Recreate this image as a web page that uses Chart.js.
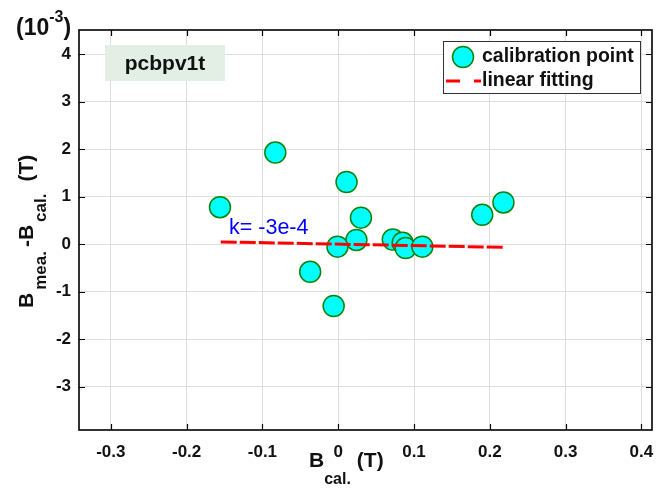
<!DOCTYPE html>
<html>
<head>
<meta charset="utf-8">
<script src="https://cdn.jsdelivr.net/npm/chart.js@4/dist/chart.umd.min.js"></script>
<style>
  html, body { margin: 0; padding: 0; background: #fff; }
  #wrap { width: 672px; height: 488px; }
</style>
</head>
<body>
<div id="wrap"><canvas id="residualChart" width="672" height="488"></canvas></div>
<script>
// valores (eje y en unidades de 1e-3 T)
const calX = [-0.156, -0.083, 0.011, 0.030, 0.024, -0.001, -0.037, -0.006, 0.072, 0.085, 0.089, 0.111, 0.190, 0.218];
const calY = [0.78, 1.93, 1.31, 0.56, 0.09, -0.05, -0.58, -1.30, 0.10, 0.03, -0.08, -0.05, 0.62, 0.88];
const fitX = [-0.155, 0.218];
const fitY = [0.05, -0.065];
const xTicks = [-0.3, -0.2, -0.1, 0, 0.1, 0.2, 0.3, 0.4];
const yTicks = [-3, -2, -1, 0, 1, 2, 3, 4];
const seriesNames = ['calibration point', 'linear fitting'];
const tagText = 'pcbpv1t';
const slopeText = 'k= -3e-4';

const FONT = '"Liberation Sans", Arial, Helvetica, sans-serif';
Chart.defaults.font.family = FONT;

// Función para dibujar texto con subindices/superindices por partes
function drawParts(ctx, parts, x, y) {
    let cx = x;
    parts.forEach(p => {
        ctx.font = 'bold ' + p.size + 'px ' + FONT;
        ctx.fillText(p.t, cx, y + (p.dy || 0));
        cx += ctx.measureText(p.t).width + (p.gap || 0);
    });
}

const matlabPlugin = {
    id: 'matlabPlugin',
    beforeDatasetsDraw(chart) {
        const ctx = chart.ctx;
        // recuadro con la etiqueta
        ctx.save();
        ctx.fillStyle = '#e3eee4';
        ctx.fillRect(105, 45, 120, 36);
        ctx.fillStyle = '#111';
        ctx.font = 'bold 21px ' + FONT;
        ctx.textAlign = 'center';
        ctx.textBaseline = 'middle';
        ctx.fillText(tagText, 165, 64);
        ctx.restore();
    },
    afterDraw(chart) {
        const ctx = chart.ctx;
        const a = chart.chartArea;
        const xs = chart.scales.x;
        const ys = chart.scales.y;

        ctx.save();
        // ticks hacia dentro en los cuatro lados
        ctx.strokeStyle = '#000';
        ctx.lineWidth = 1.2;
        ctx.beginPath();
        xTicks.forEach(v => {
            const px = Math.round(xs.getPixelForValue(v)) + 0.5;
            ctx.moveTo(px, a.bottom); ctx.lineTo(px, a.bottom - 6);
            ctx.moveTo(px, a.top); ctx.lineTo(px, a.top + 6);
        });
        yTicks.forEach(v => {
            const py = Math.round(ys.getPixelForValue(v)) + 0.5;
            ctx.moveTo(a.left, py); ctx.lineTo(a.left + 6, py);
            ctx.moveTo(a.right, py); ctx.lineTo(a.right - 6, py);
        });
        ctx.stroke();
        // caja
        ctx.lineWidth = 1.6;
        ctx.strokeRect(a.left, a.top, a.right - a.left, a.bottom - a.top);

        // texto de la pendiente
        ctx.fillStyle = '#0000ff';
        ctx.font = '21.5px ' + FONT;
        ctx.textAlign = 'left';
        ctx.textBaseline = 'alphabetic';
        ctx.fillText(slopeText, 229, 234);

        // leyenda
        ctx.fillStyle = '#fff';
        ctx.fillRect(443, 41, 198, 53);
        ctx.strokeStyle = '#333';
        ctx.lineWidth = 1;
        ctx.strokeRect(443.5, 41.5, 197, 52);
        ctx.beginPath();
        ctx.arc(463, 57, 10.5, 0, Math.PI * 2);
        ctx.fillStyle = '#00ffff';
        ctx.fill();
        ctx.strokeStyle = '#0f820f';
        ctx.lineWidth = 1.5;
        ctx.stroke();
        ctx.strokeStyle = '#ff0000';
        ctx.lineWidth = 3;
        ctx.setLineDash([14, 14]);
        ctx.beginPath();
        ctx.moveTo(446, 81); ctx.lineTo(481, 81);
        ctx.stroke();
        ctx.setLineDash([]);
        ctx.fillStyle = '#111';
        ctx.font = 'bold 19.5px ' + FONT;
        ctx.textBaseline = 'middle';
        ctx.fillText(seriesNames[0], 482, 57);
        ctx.fillText(seriesNames[1], 482, 81);

        // factor de escala
        ctx.textBaseline = 'alphabetic';
        drawParts(ctx, [
            { t: '(10', size: 23 },
            { t: '-3', size: 16, dy: -13 },
            { t: ')', size: 23 }
        ], 16, 35);

        // titulo eje x
        drawParts(ctx, [
            { t: 'B', size: 21 },
            { t: 'cal.', size: 16, dy: 17, gap: 6 },
            { t: '(T)', size: 21 }
        ], 309, 467);

        // titulo eje y (rotado)
        ctx.translate(33, 308);
        ctx.rotate(-Math.PI / 2);
        drawParts(ctx, [
            { t: 'B', size: 21, gap: 3 },
            { t: 'mea.', size: 17, dy: 13, gap: 4 },
            { t: '-B', size: 21, gap: 3 },
            { t: 'cal.', size: 17, dy: 13, gap: 12 },
            { t: '(T)', size: 21 }
        ], 0, 0);
        ctx.restore();
    }
};

const ctx = document.getElementById('residualChart').getContext('2d');
new Chart(ctx, {
    type: 'scatter',
    data: {
        datasets: [
            {
                label: seriesNames[1],
                data: fitX.map((x, i) => ({ x: x, y: fitY[i] })),
                showLine: true,
                borderColor: '#ff0000',
                borderWidth: 3,
                borderDash: [16, 3],
                pointRadius: 0,
                fill: false,
                order: 0
            },
            {
                label: seriesNames[0],
                data: calX.map((x, i) => ({ x: x, y: calY[i] })),
                backgroundColor: '#00ffff',
                borderColor: '#0f820f',
                borderWidth: 1.5,
                pointRadius: 10.5,
                order: 1
            }
        ]
    },
    options: {
        responsive: false,
        animation: false,
        layout: { padding: { top: 30, right: 20, left: 0, bottom: 0 } },
        plugins: {
            legend: { display: false },
            tooltip: { enabled: false }
        },
        scales: {
            x: {
                type: 'linear',
                min: -0.342,
                max: 0.414,
                afterFit: s => { s.height = 58; },
                afterBuildTicks: s => { s.ticks = xTicks.map(v => ({ value: v })); },
                grid: { color: '#dedede', lineWidth: 1, drawTicks: false },
                border: { display: false },
                ticks: {
                    padding: 12,
                    color: '#111',
                    font: { size: 17, weight: 'bold' },
                    maxRotation: 0,
                    callback: v => String(Math.round(v * 10) / 10)
                }
            },
            y: {
                type: 'linear',
                min: -3.91,
                max: 4.51,
                afterFit: s => { s.width = 79; },
                afterBuildTicks: s => { s.ticks = yTicks.map(v => ({ value: v })); },
                grid: { color: '#dedede', lineWidth: 1, drawTicks: false },
                border: { display: false },
                ticks: {
                    padding: 8,
                    color: '#111',
                    font: { size: 17, weight: 'bold' },
                    callback: v => String(v)
                }
            }
        }
    },
    plugins: [matlabPlugin]
});
</script>
</body>
</html>
